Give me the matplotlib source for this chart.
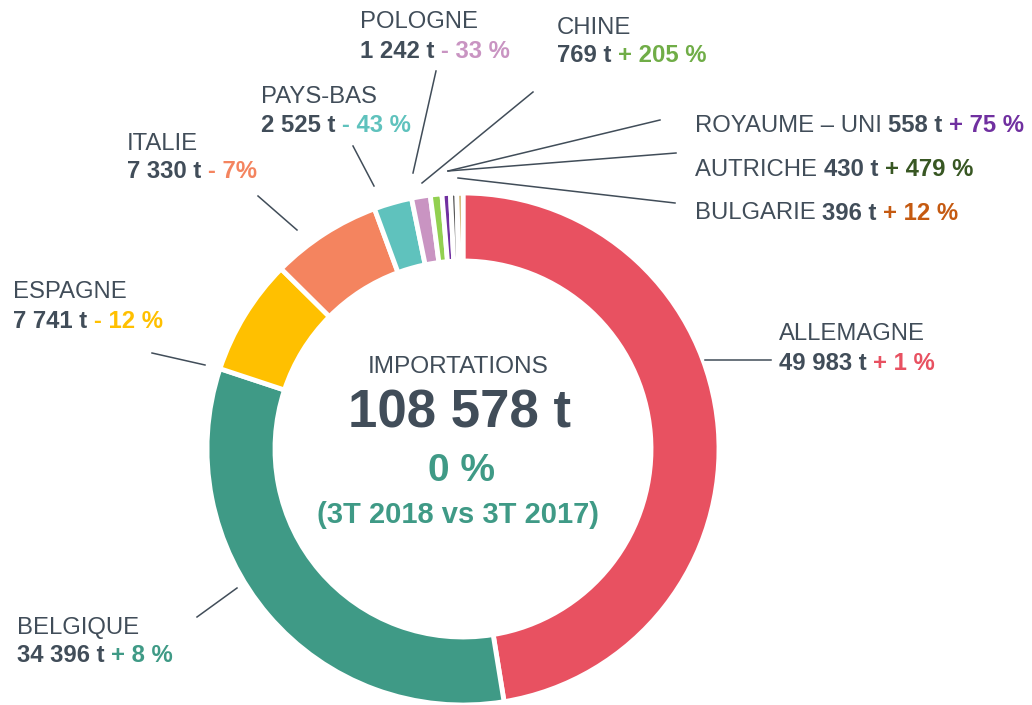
import matplotlib
matplotlib.use("Agg")
import matplotlib.pyplot as plt

# ---- data ----
countries = ["ALLEMAGNE", "BELGIQUE", "ESPAGNE", "ITALIE", "PAYS-BAS",
             "POLOGNE", "CHINE", "ROYAUME – UNI", "AUTRICHE", "BULGARIE"]
tonnes = [49983, 34396, 7741, 7330, 2525, 1242, 769, 558, 430, 396]
tonnes_txt = ["49 983 t", "34 396 t", "7 741 t", "7 330 t", "2 525 t",
              "1 242 t", "769 t", "558 t", "430 t", "396 t"]
change_txt = ["+ 1 %", "+ 8 %", "- 12 %", "- 7%", "- 43 %",
              "- 33 %", "+ 205 %", "+ 75 %", "+ 479 %", "+ 12 %"]
total_txt = "108 578 t"
total_change = "0 %"
period_txt = "(3T 2018 vs 3T 2017)"
center_title = "IMPORTATIONS"

slice_colors = ["#E85161", "#3F9A86", "#FFC000", "#F4845F", "#5FC2BD",
                "#C994C2", "#92D050", "#7030A0", "#5A5A5A", "#B8922A"]
text_colors = ["#E85161", "#3F9A86", "#FFC000", "#F4845F", "#5FC2BD",
               "#C994C2", "#70AD47", "#7030A0", "#385723", "#C55A11"]
DARK = "#414D59"

W, H = 1032, 705
fig = plt.figure(figsize=(W / 100, H / 100), dpi=100)
ax = fig.add_axes([0, 0, 1, 1])
plt.rcParams['font.family'] = ['Liberation Sans', 'DejaVu Sans']

def Y(y):
    return H - y

cx, cy, R = 463, 449, 256
ax.pie(tonnes, colors=slice_colors, startangle=90, counterclock=False,
       center=(cx, Y(cy)), radius=R,
       wedgeprops=dict(width=68, edgecolor="white", linewidth=3.5))
ax.set_xlim(0, W)
ax.set_ylim(0, H)
ax.set_aspect("equal")
ax.axis("off")

renderer = fig.canvas.get_renderer()
LS = 17.2

def runs(x, y, parts, size=LS, va="center"):
    """parts: list of (text, weight, color) drawn sequentially on one line."""
    for txt, weight, color in parts:
        t = ax.text(x, Y(y), txt, fontsize=size, fontweight=weight,
                    color=color, ha="left", va=va)
        bb = t.get_window_extent(renderer=renderer)
        x += bb.width

def two_line(i, x, y1, y2):
    runs(x, y1, [(countries[i], "normal", DARK)])
    runs(x, y2, [(tonnes_txt[i] + " ", "bold", DARK),
                 (change_txt[i], "bold", text_colors[i])])

# two-line labels
two_line(0, 779, 334, 363)
two_line(1, 17, 628, 656)
two_line(2, 13, 292, 321)
two_line(3, 127, 144, 172)
two_line(4, 261, 97, 125)
two_line(5, 360, 22, 51)
two_line(6, 557, 28, 56)

# single-line labels on the right
for i, y in zip([7, 8, 9], [126, 170, 213]):
    runs(695, y, [(countries[i] + " ", "normal", DARK),
                  (tonnes_txt[i] + " ", "bold", DARK),
                  (change_txt[i], "bold", text_colors[i])])

# leader lines
leaders = [
    ((705, 360), (771, 360)),
    ((197, 617), (237, 588)),
    ((152, 353), (205, 365)),
    ((258, 196), (297, 230)),
    ((353, 146), (374, 186)),
    ((436, 71), (413, 173)),
    ((533, 92), (422, 183)),
    ((660, 120), (448, 171)),
    ((676, 153), (448, 171)),
    ((675, 203), (458, 178)),
]
for (x1, y1), (x2, y2) in leaders:
    ax.plot([x1, x2], [Y(y1), Y(y2)], color="#414D59", lw=1.1)

# center text
ax.text(cx - 5, Y(367), center_title, fontsize=17.6, color=DARK,
        ha="center", va="center")
ax.text(cx - 4, Y(413), total_txt, fontsize=38, fontweight="bold",
        color=DARK, ha="center", va="center")
ax.text(cx - 2, Y(471), total_change, fontsize=28, fontweight="bold",
        color="#3F9A86", ha="center", va="center")
ax.text(cx - 5, Y(515), period_txt, fontsize=21, fontweight="bold",
        color="#3F9A86", ha="center", va="center")

fig.savefig("out.png", dpi=100)
